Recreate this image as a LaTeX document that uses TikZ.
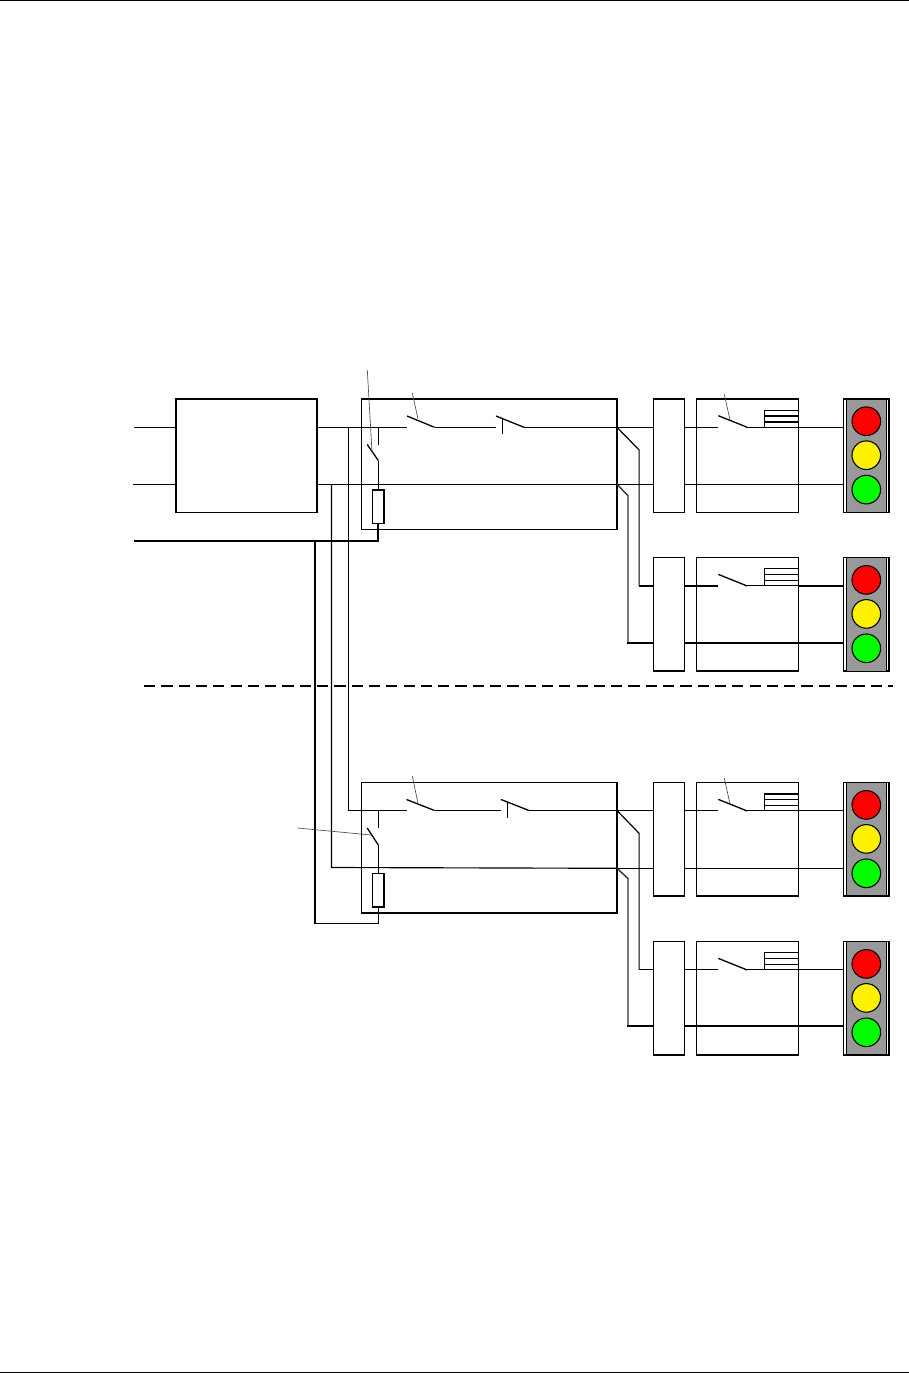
\documentclass[tikz,border=0pt]{standalone}
\usetikzlibrary{calc}
\definecolor{lampgray}{RGB}{153,153,153}
\definecolor{lampgreen}{RGB}{0,255,0}
\tikzset{
  wire/.style={line width=1.15pt,line cap=butt,line join=miter},
  feeder/.style={line width=1.2pt,line join=miter},
  heavy/.style={line width=1.8pt,line join=miter},
  mid/.style={line width=1.4pt,black!80},
  leader/.style={line width=.65pt,black!70},
  blade/.style={line width=1.3pt},
  frame/.style={draw,fill=white,line width=1.15pt,inner sep=0pt,outer sep=0pt},
  housing/.style={draw,fill=white,line width=1.15pt,inner sep=0pt,outer sep=0pt},
  panel/.style={draw,fill=lampgray,line width=.8pt,inner sep=0pt,outer sep=0pt},
  lamp/.style={circle,draw,line width=1.1pt,minimum size=28.6pt,inner sep=0pt,outer sep=0pt},
  resistor/.style={draw,fill=white,line width=1.5pt,inner sep=0pt,outer sep=0pt,minimum width=11.5pt,minimum height=33.5pt},
  rule/.style={line width=1.2pt},
  edge/.style={line width=1.8pt,line cap=rect}
}
% \boxat{name}{style}{x1}{y1}{x2}{y2}
\newcommand{\boxat}[6]{\node[#2,minimum width={(#5-#3)*1pt},minimum height={(#6-#4)*1pt}] (#1) at ({(#3+#5)/2},{(#4+#6)/2}) {};}
% \signalhead{n}{T}{w1}{w2}{w3}
\newcommand{\signalhead}[5]{%
  \boxat{A#1}{frame}{653.5}{#2}{684.5}{#2+113.3}
  \boxat{B#1}{frame}{696.4}{#2}{798.3}{#2+113.3}
  \boxat{L#1}{housing}{843.6}{#2}{889}{#2+113.3}
  \boxat{P#1}{panel}{846.5}{#2+3}{886.5}{#2+110.3}
  \node[lamp,fill=red] (R#1) at (866.3,#2+22.2) {};
  \node[lamp,fill=yellow] (Y#1) at (866.3,#2+56.2) {};
  \node[lamp,fill=lampgreen] (G#1) at (866.3,#2+90.6) {};
  \coordinate (Sa#1) at (718.3,#2+16.7);
  \coordinate (Sb#1) at (747,#2+28.2);
  \coordinate (St#1) at (764.3,#2+28.2);
  \draw[blade] (Sa#1) -- (Sb#1);
  \draw[wire] (St#1) |- (B#1.east |- 0,#2+11.2);
  \draw[line width=#3] (St#1 |- 0,#2+16.7) -- (B#1.east |- 0,#2+16.7);
  \draw[line width=#4] (St#1 |- 0,#2+22.7) -- (B#1.east |- 0,#2+22.7);
  \draw[line width=#5] (St#1 |- 0,#2+11.2) -- (B#1.east |- 0,#2+11.2);
  \draw[wire] (Sb#1) -- (B#1.east |- Sb#1);
}
\begin{document}
\begin{tikzpicture}[x=1pt,y=-1pt]
\useasboundingbox (0,0) rectangle (909,1373);
\coordinate (hl) at (0,0.6); \coordinate (hr) at (909,0.6);
\coordinate (fl) at (0,1372.2); \coordinate (fr) at (909,1372.2);
\draw[rule] (hl) -- (hr);
\draw[rule] (fl) -- (fr);
% dashed separator
\coordinate (dl) at (144,686); \coordinate (dr) at (893,686);
\draw[line width=2pt,dash pattern=on 11.2pt off 6.1pt] (dl) -- (dr);

% boxes
\boxat{main}{frame}{176.2}{399}{317}{512.4}
\boxat{ctlU}{frame}{361.6}{399}{617}{529.3}
\boxat{ctlD}{frame}{361.6}{782.7}{617}{912.6}
\signalhead{1}{399}{1.8pt}{1.8pt}{1.15pt}
\signalhead{2}{557.7}{1.8pt}{1.15pt}{1.15pt}
\signalhead{3}{782.7}{1.15pt}{1.15pt}{1.8pt}
\signalhead{4}{941.7}{1.15pt}{1.8pt}{1.15pt}

% heavier box sides
\foreach \p/\q in {main.north west/main.north east, main.north west/main.south west,
  ctlU.north west/ctlU.north east, ctlU.north east/ctlU.south east,
  ctlD.north east/ctlD.south east, ctlD.south west/ctlD.south east,
  A1.north west/A1.north east, B1.north west/B1.north east, B1.north west/B1.south west,
  L1.north west/L1.north east, L1.north east/L1.south east, L2.north east/L2.south east,
  A3.south west/A3.south east, B3.north west/B3.south west, B3.south west/B3.south east,
  L3.north east/L3.south east, L3.south west/L3.south east,
  A4.south west/A4.south east, B4.north west/B4.south west, B4.south west/B4.south east,
  L4.north east/L4.south east, L4.south west/L4.south east}
  \draw[edge] (\p) -- (\q);

% bus coordinates
\coordinate (in1) at (134,427.3);
\coordinate (in2) at (133,484.3);
\coordinate (in3) at (134,541);
\coordinate (j1) at (378.3,427.3);
\coordinate (j1d) at (378.3,810.5);
\coordinate (sw1a) at (407,416);
\coordinate (sw1b) at (434.5,427.3);
\coordinate (sw2a) at (496,416);
\coordinate (sw2b) at (524,427.3);
\coordinate (sw3a) at (406.5,799.5);
\coordinate (sw3b) at (434.5,810.5);
\coordinate (sw4a) at (501,799.5);
\coordinate (sw4b) at (529,810.5);
\coordinate (k1a) at (367.2,444.5);
\coordinate (k1b) at (378.3,460.5);
\coordinate (k2a) at (367.2,828);
\coordinate (k2b) at (378.3,845);
\node[resistor] (res1) at (378.3,506.5) {};
\node[resistor] (res2) at (378.3,890) {};

% inputs
\draw[wire] (in1) -- (main.west |- in1);
\draw[wire] (in2) -- (main.west |- in2);
\draw[heavy] (in3) -- (res1.south |- in3) -- (res1.south);

% upper control box
\draw[wire] (main.east |- in1) -- (j1) -- (j1 -| sw1a);
\draw[wire] (j1) -- (378.3,445);
\draw[blade] (k1a) -- (k1b);
\draw[wire] (k1b) -- (res1.north);
\draw[blade] (sw1a) -- (sw1b);
\draw[wire] (sw1b) -- (sw2a |- sw1b);
\draw[blade] (sw2a) -- (sw2b);
\draw[wire] (502.5,418) -- (502.5,434);
\draw[wire] (sw2b) -- (ctlU.east |- sw2b);
\draw[wire] (main.east |- in2) -- (ctlU.east |- in2);

% upper wiring to heads
\draw[wire] (ctlU.east |- in1) -- (A1.west |- in1);
\draw[wire] (A1.east |- in1) -- (Sa1 |- in1);
\draw[wire] (ctlU.east |- in2) -- (A1.west |- in2);
\draw[wire] (A1.east |- in2) -- (L1.west |- in2);
\draw[wire] (Sb1 -| B1.east) -- (L1.west |- Sb1);
\draw[feeder] (ctlU.east |- in1) -- (639.1,450) -- (639.1,585.9);
\draw[heavy] (638.5,585.9) -- (A2.west |- 0,585.9);
\draw[heavy] (A2.east |- 0,585.9) -- (Sa2 |- 0,585.9);
\draw[heavy] (B2.east |- 0,585.9) -- (L2.west |- 0,585.9);
\draw[mid] (ctlU.east |- in2) -- (628,495.7) -- (628,643);
\draw[heavy] (627.4,643) -- (A2.west |- 0,643);
\draw[heavy] (A2.east |- 0,643) -- (L2.west |- 0,643);

% feeders to the lower control box
\draw[feeder] (348.1,427.3) |- (sw3a |- j1d);
\draw[wire] (331.5,484.3) -- (331.5,867.5) -- (ctlD.east |- 0,868.3);
\draw[feeder] (315,541) -- (315,923.8) -- (378.3,923.8) -- (res2.south);

% lower control box
\draw[wire] (j1d) -- (378.3,828);
\draw[blade] (k2a) -- (k2b);
\draw[wire] (k2b) -- (res2.north);
\draw[blade] (sw3a) -- (sw3b);
\draw[wire] (sw3b) -- (sw4a |- sw3b);
\draw[blade] (sw4a) -- (sw4b);
\draw[wire] (507.7,801.5) -- (507.7,817.5);
\draw[wire] (sw4b) -- (ctlD.east |- sw4b);

% lower wiring to heads
\draw[wire] (ctlD.east |- sw4b) -- (A3.west |- sw4b);
\draw[wire] (A3.east |- sw4b) -- (Sa3 |- sw4b);
\draw[wire] (B3.east |- sw4b) -- (L3.west |- sw4b);
\draw[wire] (ctlD.east |- 0,868.3) -- (A3.west |- 0,868.3);
\draw[wire] (A3.east |- 0,868.3) -- (L3.west |- 0,868.3);
\draw[feeder] (ctlD.east |- sw4b) -- (639.1,833.3) -- (639.1,969.7);
\draw[wire] (638.5,969.7) -- (A4.west |- 0,969.7);
\draw[wire] (A4.east |- 0,969.7) -- (Sa4 |- 0,969.7);
\draw[wire] (B4.east |- 0,969.7) -- (L4.west |- 0,969.7);
\draw[mid] (ctlD.east |- 0,868.3) -- (628,878.5) -- (628,1026);
\draw[heavy] (627.4,1026) -- (A4.west |- 0,1026);
\draw[heavy] (A4.east |- 0,1026) -- (L4.west |- 0,1026);

% leaders
\coordinate (l1s) at (367.3,370); \coordinate (l1e) at (372,452);
\coordinate (l2s) at (412.3,393); \coordinate (l2e) at (418,419);
\coordinate (l3s) at (724.3,394.3); \coordinate (l3e) at (730,420);
\coordinate (l4s) at (297.5,828); \coordinate (l4e) at (371,835);
\coordinate (l5s) at (412.3,776); \coordinate (l5e) at (417.8,802.5);
\coordinate (l6s) at (724.3,778); \coordinate (l6e) at (730,804);
\foreach \a/\b in {l1s/l1e,l2s/l2e,l3s/l3e,l4s/l4e,l5s/l5e,l6s/l6e} \draw[leader] (\a) -- (\b);
\end{tikzpicture}
\end{document}
